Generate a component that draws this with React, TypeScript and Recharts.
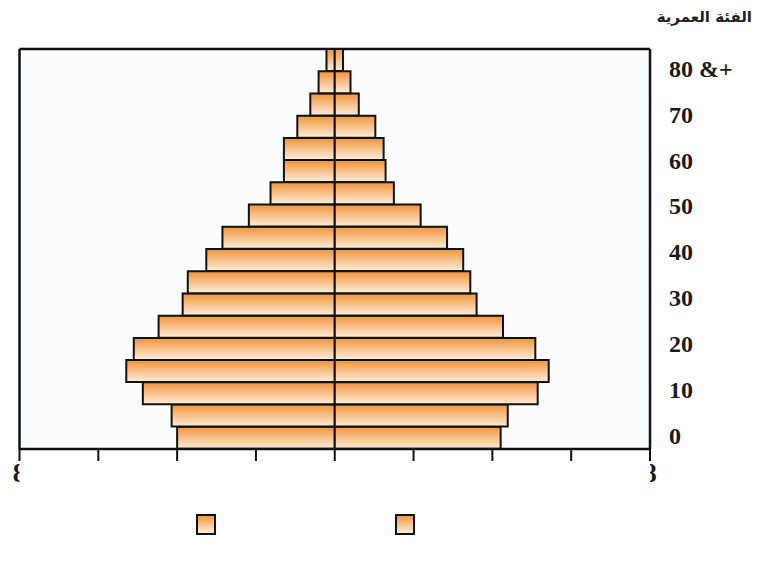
import React from 'react';
import { BarChart, Bar, XAxis, YAxis, CartesianGrid, ReferenceLine, Legend } from 'recharts';

// age groups, bottom to top
const ageGroups = [
  '0-4', '5-9', '10-14', '15-19', '20-24', '25-29', '30-34', '35-39', '40-44',
  '45-49', '50-54', '55-59', '60-64', '65-69', '70-74', '75-79', '80-84', '85+',
];
const ageTickLabels = ['0', '', '10', '', '20', '', '30', '', '40', '', '50', '', '60', '', '70', '', '80 &+', ''];
const maleValues = [4.0, 4.14, 4.87, 5.29, 5.1, 4.47, 3.86, 3.73, 3.26, 2.85, 2.18, 1.63, 1.29, 1.29, 0.95, 0.62, 0.41, 0.21];
const femaleValues = [4.21, 4.39, 5.15, 5.43, 5.09, 4.27, 3.6, 3.44, 3.26, 2.85, 2.18, 1.5, 1.29, 1.24, 1.03, 0.61, 0.4, 0.21];
const xTicks = [-8, -6, -4, -2, 0, 2, 4, 6, 8];

const data = ageGroups.map((age, i) => ({
  age,
  male: -maleValues[i],
  female: femaleValues[i],
}));

const serif = 'Liberation Serif, Times New Roman, serif';

const AgeTick = (props: any) => {
  const { x, y, payload } = props;
  const idx = ageGroups.indexOf(payload.value);
  const label = ageTickLabels[idx];
  if (!label) return <g />;
  // the printed labels sit a little higher than the bars as they go up
  const shift = -2 - (idx / 2) * 1.45;
  return (
    <text
      x={x}
      y={y + shift + 8}
      textAnchor="start"
      fontFamily={serif}
      fontWeight="bold"
      fontSize={24}
      fill="#1a1a1a"
    >
      {label}
    </text>
  );
};

// only the outer labels survive, half hidden behind the frame
const EdgeTick = (props: any) => {
  const { x, y, payload } = props;
  if (Math.abs(payload.value) !== 8) return <g />;
  const left = payload.value < 0;
  const id = left ? 'clip-edge-left' : 'clip-edge-right';
  return (
    <g>
      <clipPath id={id}>
        <rect x={left ? x - 20 : x} y={y} width={20} height={40} />
      </clipPath>
      <text
        x={x}
        y={y + 19}
        textAnchor="middle"
        clipPath={`url(#${id})`}
        fontFamily={serif}
        fontWeight="bold"
        fontSize={27}
        fill="#1a1a1a"
      >
        8
      </text>
    </g>
  );
};

const swatchStyle: React.CSSProperties = {
  width: 16,
  height: 17,
  border: '2px solid #111',
  background: 'linear-gradient(#f39a3e, #fdeedc)',
};

const SwatchLegend = () => (
  <div style={{ display: 'flex', paddingLeft: 176, gap: 179, height: 21 }}>
    <div style={swatchStyle} />
    <div style={swatchStyle} />
  </div>
);

export default function App() {
  return (
    <div style={{ position: 'relative', width: 756, height: 551 }}>
      <div
        dir="rtl"
        style={{
          position: 'absolute',
          right: 12,
          top: 0,
          fontFamily: "'DejaVu Sans', sans-serif",
          fontWeight: 'bold',
          fontSize: 15,
          lineHeight: '19px',
          color: '#222',
        }}
      >
        الفئة العمرية
      </div>
      <BarChart
        width={756}
        height={551}
        data={data}
        layout="vertical"
        stackOffset="sign"
        barCategoryGap={0}
        margin={{ top: 41, right: 4, left: 11.5, bottom: 24 }}
      >
        <defs>
          <linearGradient id="barFill" x1="0" y1="0" x2="0" y2="1">
            <stop offset="0%" stopColor="#f2943a" />
            <stop offset="100%" stopColor="#fdeedc" />
          </linearGradient>
        </defs>
        <CartesianGrid
          fill="#fbfcfe"
          vertical={false}
          stroke="#111"
          strokeWidth={2.5}
          horizontalCoordinatesGenerator={({ offset }: any) => [offset.top]}
        />
        <XAxis
          type="number"
          domain={[-8, 8]}
          ticks={xTicks}
          height={65}
          tickSize={12}
          axisLine={{ stroke: '#111', strokeWidth: 2.5 }}
          tickLine={{ stroke: '#111', strokeWidth: 2 }}
          tick={<EdgeTick />}
          interval={0}
        />
        <YAxis
          dataKey="age"
          type="category"
          orientation="right"
          reversed
          width={110}
          axisLine={false}
          tickLine={false}
          tickSize={0}
          tickMargin={19}
          interval={0}
          tick={<AgeTick />}
        />
        <ReferenceLine x={-8} stroke="#111" strokeWidth={2.5} />
        <ReferenceLine x={8} stroke="#111" strokeWidth={2.5} />
        <Bar dataKey="male" name="ذكور" stackId="a" fill="url(#barFill)" stroke="#111" strokeWidth={2} isAnimationActive={false} />
        <Bar dataKey="female" name="إناث" stackId="a" fill="url(#barFill)" stroke="#111" strokeWidth={2} isAnimationActive={false} />
        <Legend verticalAlign="bottom" content={<SwatchLegend />} />
      </BarChart>
    </div>
  );
}
